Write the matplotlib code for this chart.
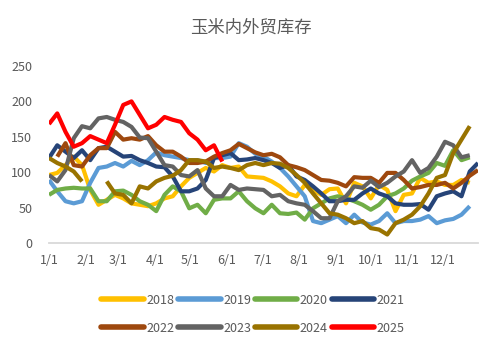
import numpy as np
import matplotlib
matplotlib.use("Agg")
import matplotlib.pyplot as plt

plt.rcParams['font.family'] = ['Noto Sans CJK SC', 'DejaVu Sans']

# weekly readings, one value per week starting 1/1 (nan = no data)
nan = np.nan
y2018 = [96, 99, 110, 122, 110, 75, 54, 61, 68, 63, 56, 54, 52, 56, 63, 66, 80, 92,
         99, 106, 101, 110, 106, 108, 94, 93, 92, 87, 80, 70, 66, 82, 75, 68, 76, 77,
         56, 85, 80, 63, 82, 75, 45, 68, 70, 92, 85, 87, 82, 82, 89, 85]
y2019 = [89, 73, 59, 56, 59, 85, 106, 108, 113, 108, 116, 110, 117, 128, 124, 122,
         120, 117, 117, 113, 120, 120, 122, 141, 136, 126, 122, 115, 106, 94, 80, 66,
         31, 28, 33, 38, 28, 40, 29, 26, 31, 42, 28, 31, 31, 33, 38, 28, 32, 34, 40, 52]
y2020 = [68, 75, 77, 78, 77, 77, 59, 59, 73, 74, 68, 59, 54, 45, 68, 80, 73, 49, 54,
         42, 61, 63, 63, 73, 59, 49, 42, 54, 42, 41, 43, 33, 49, 56, 63, 66, 63, 59,
         54, 47, 54, 66, 70, 77, 88, 94, 99, 113, 109, 131, 117, 121]
y2021 = [120, 138, 129, 120, 131, 117, 134, 136, 129, 122, 123, 117, 113, 108, 107,
         94, 73, 73, 77, 89, 120, 124, 127, 117, 118, 120, 117, 113, 106, 110, 94, 89,
         80, 70, 59, 59, 61, 61, 70, 77, 70, 66, 56, 54, 54, 55, 47, 66, 70, 73, 66,
         101, 113]
y2022 = [nan, 122, 141, 110, 108, 124, 134, 134, 157, 146, 148, 146, 151, 138, 129,
         129, 122, 113, 113, 115, 122, 127, 131, 140, 134, 128, 124, 126, 121, 110,
         107, 103, 96, 89, 88, 85, 80, 93, 92, 92, 85, 99, 99, 89, 77, 79, 82, 82, 85,
         77, 85, 95, 103]
y2023 = [96, 87, 103, 148, 165, 162, 176, 178, 174, 171, 164, 149, 148, 129, 110, 108,
         96, 94, 103, 77, 66, 66, 82, 75, 77, 76, 75, 66, 68, 59, 56, 54, 45, 35, 35,
         59, 66, 80, 78, 88, 79, 85, 94, 101, 117, 99, 106, 122, 143, 138, 121, 124]
y2024 = [120, 113, 108, 101, 87, nan, nan, 87, 70, 68, 56, 80, 77, 87, 92, 95, 103,
         117, 117, 115, 106, 108, 106, 103, 110, 113, 110, 113, 112, 106, 96, 85, 70,
         56, 42, 40, 35, 28, 31, 21, 19, 12, 28, 33, 40, 52, 70, 92, 96, 127, 146, 165]
y2025 = [168, 183, 157, 136, 141, 151, 146, 141, 167, 195, 200, 181, 162, 167, 178,
         174, 171, 155, 146, 131, 138, 115]

years = ["2018", "2019", "2020", "2021", "2022", "2023", "2024", "2025"]
series = [y2018, y2019, y2020, y2021, y2022, y2023, y2024, y2025]
colors = ["#FFC000", "#5B9BD5", "#70AD47", "#264478",
          "#9E480E", "#636363", "#997300", "#FF0000"]

month_days = [0, 31, 59, 90, 120, 151, 181, 212, 243, 273, 304, 334]
month_labels = [f"{m}/1" for m in range(1, 13)]

fig = plt.figure(figsize=(5.02, 3.54), dpi=100)
ax = fig.add_axes([49 / 502, 111 / 354, 429 / 502, 177 / 354])

lines = []
for yr, vals, c in zip(years, series, colors):
    days = np.arange(len(vals)) * 7
    ln, = ax.plot(days, vals, color=c, lw=3.0, label=yr,
                  solid_joinstyle="round", solid_capstyle="butt")
    lines.append(ln)

ax.set_xlim(0, 364)
ax.set_ylim(0, 250)
ax.set_yticks(range(0, 251, 50))
ax.set_xticks(month_days)
ax.set_xticklabels(month_labels)
ax.tick_params(length=0, labelsize=9, colors="#595959")
ax.tick_params(axis="y", pad=12)
ax.tick_params(axis="x", pad=8)
for s in ["top", "right", "left"]:
    ax.spines[s].set_visible(False)
ax.spines["bottom"].set_color("#D9D9D9")
ax.spines["bottom"].set_linewidth(1.3)

fig.text(0.5, 1 - 28 / 354, "玉米内外贸库存", ha="center", va="center",
         fontsize=12.5, color="#595959")

# legend fills column by column, so interleave to get rows 2018-2021 / 2022-2025
order = [0, 4, 1, 5, 2, 6, 3, 7]
leg = fig.legend([lines[i] for i in order], [years[i] for i in order],
                 loc="center", bbox_to_anchor=(253 / 502, 1 - 314 / 354), ncol=4,
                 frameon=False, fontsize=9, handlelength=3.4, handletextpad=0.2,
                 columnspacing=0.3, labelspacing=1.2)
for t in leg.get_texts():
    t.set_color("#595959")
for h in leg.get_lines():
    h.set_linewidth(4)
    h.set_solid_capstyle("round")

fig.savefig("out.png", dpi=100)
